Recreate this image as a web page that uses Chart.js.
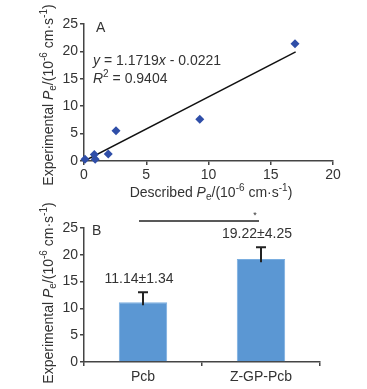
<!DOCTYPE html>
<html>
<head>
<meta charset="utf-8">
<script src="https://cdn.jsdelivr.net/npm/chart.js@4.4.1/dist/chart.umd.min.js"></script>
<style>
  html, body { margin: 0; padding: 0; background: #fff; }
  #wrap { position: relative; width: 367px; height: 389px; }
  #topBox { position: absolute; left: 0; top: 0; width: 367px; height: 203px; }
  #botBox { position: absolute; left: 0; top: 203px; width: 367px; height: 186px; }
</style>
</head>
<body>
<div id="wrap">
  <div id="topBox"><canvas id="scatterChart"></canvas></div>
  <div id="botBox"><canvas id="barChart"></canvas></div>
</div>
<script>
// panel A: described vs experimental Pe
const describedPe = [0.08, 0.83, 0.9, 1.95, 2.57, 9.3, 16.95];
const experimentalPe = [0.3, 1.2, 0.3, 1.3, 5.5, 7.6, 21.4];
const trendX = [0.02, 17];
const trendY = [0.0, 19.9];
const scatterTicks = [0, 5, 10, 15, 20];

// panel B: means with error bars
const groups = ["Pcb", "Z-GP-Pcb"];
const meanPe = [11.14, 19.22];
const errTop = [13.0, 21.4];
const errBottom = [10.6, 18.6];
const meanLabels = ["11.14\u00b11.34", "19.22\u00b14.25"];
const barTicks = [0, 5, 10, 15, 20, 25];

const FONT = "'Liberation Sans', Arial, sans-serif";
const TXT = "#333";
const AXIS = "#444";

const yTitle = [["Experimental ", ""], ["P", "i"], ["e", "sub"], ["/(10", ""], ["-6", "sup"], [" cm\u00b7s", ""], ["-1", "sup"], [")", ""]];
const xTitle = [["Described ", ""], ["P", "i"], ["e", "sub"], ["/(10", ""], ["-6", "sup"], [" cm\u00b7s", ""], ["-1", "sup"], [")", ""]];
const eqLine = [["y", "i"], [" = 1.1719", ""], ["x", "i"], [" - 0.0221", ""]];
const r2Line = [["R", "i"], ["2", "sup"], [" = 0.9404", ""]];

function segFont(kind, size) {
  const s = (kind === "sub" || kind === "sup") ? Math.round(size * 0.68) : size;
  return (kind === "i" ? "italic " : "") + s + "px " + FONT;
}

function richWidth(ctx, segs, size) {
  let w = 0;
  segs.forEach(([t, k]) => { ctx.font = segFont(k, size); w += ctx.measureText(t).width; });
  return w;
}

function drawRich(ctx, segs, x, y, size, align, rotate) {
  ctx.save();
  ctx.translate(x, y);
  if (rotate) ctx.rotate(-Math.PI / 2);
  ctx.fillStyle = TXT;
  ctx.textBaseline = "middle";
  ctx.textAlign = "left";
  let cx = align === "center" ? -richWidth(ctx, segs, size) / 2 : 0;
  segs.forEach(([t, k]) => {
    ctx.font = segFont(k, size);
    let dy = 0;
    if (k === "sub") dy = size * 0.3;
    if (k === "sup") dy = -size * 0.35;
    ctx.fillText(t, cx, dy);
    cx += ctx.measureText(t).width;
  });
  ctx.restore();
}

const axisStyle = {
  grid: { display: true, drawOnChartArea: false, drawTicks: true, tickLength: 4, color: AXIS, lineWidth: 1.5 },
  border: { display: true, color: AXIS, width: 1.5 },
};

// panel A
const scatterDecor = {
  id: "scatterDecor",
  afterDraw(chart) {
    const ctx = chart.ctx;
    drawRich(ctx, yTitle, 49, 95, 14, "center", true);
    drawRich(ctx, xTitle, 211, 193, 14, "center", false);
    drawRich(ctx, [["A", ""]], 96, 28, 14, "left", false);
    drawRich(ctx, eqLine, 93, 61, 14, "left", false);
    drawRich(ctx, r2Line, 93, 79, 14, "left", false);
  }
};

new Chart(document.getElementById("scatterChart"), {
  type: "scatter",
  data: {
    datasets: [
      {
        label: "Data",
        data: describedPe.map((x, i) => ({ x: x, y: experimentalPe[i] })),
        pointStyle: "rectRot",
        pointRadius: 4.5,
        backgroundColor: "#2f4ea8",
        borderColor: "#2f4ea8",
        borderWidth: 0,
        clip: false,
      },
      {
        type: "line",
        label: "Trend",
        data: trendX.map((x, i) => ({ x: x, y: trendY[i] })),
        borderColor: "#111",
        borderWidth: 1.5,
        pointRadius: 0,
        fill: false,
      },
    ],
  },
  options: {
    responsive: true,
    maintainAspectRatio: false,
    animation: false,
    layout: { padding: { left: 0, top: 24, right: 34, bottom: 0 } },
    plugins: { legend: { display: false }, tooltip: { enabled: false } },
    scales: {
      x: {
        type: "linear",
        min: 0,
        max: 20,
        afterBuildTicks: (s) => { s.ticks = scatterTicks.map((v) => ({ value: v })); },
        ticks: { font: { family: FONT, size: 14 }, color: TXT, padding: 2 },
        afterFit: (s) => { s.height = 42; },
        ...axisStyle,
      },
      y: {
        type: "linear",
        min: 0,
        max: 25,
        afterBuildTicks: (s) => { s.ticks = barTicks.map((v) => ({ value: v })); },
        ticks: { font: { family: FONT, size: 14 }, color: TXT, padding: 2 },
        afterFit: (s) => { s.width = 84; },
        ...axisStyle,
      },
    },
  },
  plugins: [scatterDecor],
});

// panel B
const barDecor = {
  id: "barDecor",
  afterDatasetsDraw(chart) {
    const ctx = chart.ctx;
    const xs = chart.scales.x;
    const ys = chart.scales.y;
    ctx.save();
    ctx.strokeStyle = "#222";
    ctx.lineWidth = 2;
    groups.forEach((g, i) => {
      const cx = xs.getPixelForValue(i);
      const yt = ys.getPixelForValue(errTop[i]);
      const yb = ys.getPixelForValue(errBottom[i]);
      ctx.beginPath();
      ctx.moveTo(cx, yb);
      ctx.lineTo(cx, yt);
      ctx.moveTo(cx - 5, yt);
      ctx.lineTo(cx + 5, yt);
      ctx.stroke();
      drawRich(ctx, [[meanLabels[i], ""]], cx - 4, yt - 13, 14, "center", false);
    });
    // significance bar
    ctx.lineWidth = 1.5;
    ctx.beginPath();
    ctx.moveTo(xs.getPixelForValue(0) - 4, 18);
    ctx.lineTo(xs.getPixelForValue(1) - 2, 18);
    ctx.stroke();
    ctx.restore();
    drawRich(ctx, [["*", ""]], xs.getPixelForValue(1) - 6, 13, 9, "center", false);
    drawRich(ctx, yTitle, 49, 90, 14, "center", true);
    drawRich(ctx, [["B", ""]], 92, 28, 14, "left", false);
  }
};

new Chart(document.getElementById("barChart"), {
  type: "bar",
  data: {
    labels: groups,
    datasets: [{
      label: "Pe",
      data: meanPe,
      backgroundColor: "#5b97d3",
      borderColor: "#7aaee0",
      borderWidth: 1,
      categoryPercentage: 1,
      barPercentage: 0.41,
    }],
  },
  options: {
    responsive: true,
    maintainAspectRatio: false,
    animation: false,
    layout: { padding: { left: 0, top: 25, right: 47, bottom: 0 } },
    plugins: { legend: { display: false }, tooltip: { enabled: false } },
    scales: {
      x: {
        ticks: { font: { family: FONT, size: 14 }, color: TXT, padding: 3 },
        afterFit: (s) => { s.height = 27; },
        ...axisStyle,
      },
      y: {
        min: 0,
        max: 25,
        afterBuildTicks: (s) => { s.ticks = barTicks.map((v) => ({ value: v })); },
        ticks: { font: { family: FONT, size: 14 }, color: TXT, padding: 2 },
        afterFit: (s) => { s.width = 84; },
        ...axisStyle,
      },
    },
  },
  plugins: [barDecor],
});
</script>
</body>
</html>
